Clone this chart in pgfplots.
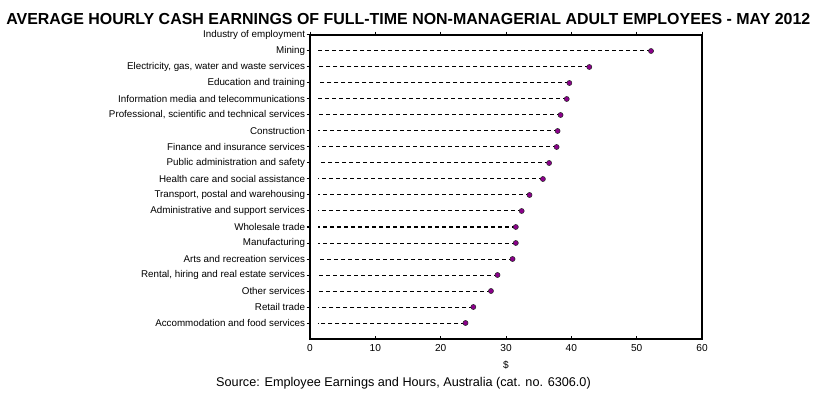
\documentclass[border=0pt]{standalone}
\usepackage{fontspec}
\setmainfont{Liberation Sans}
\usepackage{pgfplots}
\usepackage{pgfplotstable}
\pgfplotsset{compat=1.18}
\definecolor{mk}{RGB}{140,0,140}
\pgfplotstableread{
y x
18 52.2
17 42.75
16 39.7
15 39.3
14 38.35
13 37.9
12 37.75
11 36.6
10 35.65
9 33.6
8 32.4
7 31.5
6 31.5
5 31.0
4 28.7
3 27.7
2 25.0
1 23.8
}\datatab
\begin{document}
\begin{tikzpicture}[x=0.75pt,y=0.75pt]
\path[use as bounding box] (0,0) rectangle (816,393);
\node[anchor=base west, inner sep=0] at (6,368) {\resizebox{603pt}{!}{\bfseries AVERAGE HOURLY CASH EARNINGS OF FULL-TIME NON-MANAGERIAL ADULT EMPLOYEES - MAY 2012}};
\begin{axis}[
  at={(232.5pt,40.5pt)}, anchor=south west, scale only axis,
  width=294pt, height=228pt,
  xmin=0, xmax=60, ymin=0, ymax=19,
  axis line style={black, line width=0.9pt},
  tick style={black, line width=0.75pt},
  major tick length=2.5pt,
  tick align=outside,
  ytick pos=left, xtick pos=upper,
  xtick={0,10,...,60}, xticklabels={},
  ytick={1,...,19},
  yticklabels={Accommodation and food services, Retail trade, Other services, {Rental, hiring and real estate services}, Arts and recreation services, Manufacturing, Wholesale trade, Administrative and support services, {Transport, postal and warehousing}, Health care and social assistance, Public administration and safety, Finance and insurance services, Construction, {Professional, scientific and technical services}, Information media and telecommunications, Education and training, {Electricity, gas, water and waste services}, Mining, Industry of employment},
  yticklabel style={font=\fontsize{7.35}{8}\selectfont, inner sep=1pt},
  clip=false,
]
\addplot[only marks, mark=*, mark size=1.9pt,
  mark options={solid, fill=mk, draw=black!85, line width=0.4pt},
  error bars/.cd, x dir=minus, x explicit, error mark=none,
  error bar style={black, line width=0.75pt, dash pattern=on 3pt off 2.25pt}]
  table[x=x, y=y, x error expr=\thisrow{x}-1.25] {\datatab};
\end{axis}
\begin{axis}[
  at={(232.5pt,40.5pt)}, anchor=south west, scale only axis,
  width=294pt, height=228pt,
  xmin=0, xmax=60, ymin=0, ymax=19,
  axis line style={black, line width=0.9pt},
  tick style={black, line width=0.75pt},
  major tick length=2.5pt,
  tick align=inside,
  ytick=\empty, xtick pos=lower,
  xtick={0,10,...,60},
  xticklabel style={font=\fontsize{7.6}{8}\selectfont, inner sep=1pt, yshift=-3pt},
  /pgf/number format/assume math mode=true,
  xlabel={\$}, xlabel style={font=\fontsize{7.6}{8}\selectfont, inner sep=1pt, yshift=-5pt},
]
\end{axis}
\node[anchor=base, inner sep=0, font=\fontsize{9.5}{10}\selectfont] at (403.5,7) {Source: Employee Earnings and Hours, Australia (cat. no. 6306.0)};
\end{tikzpicture}
\end{document}
